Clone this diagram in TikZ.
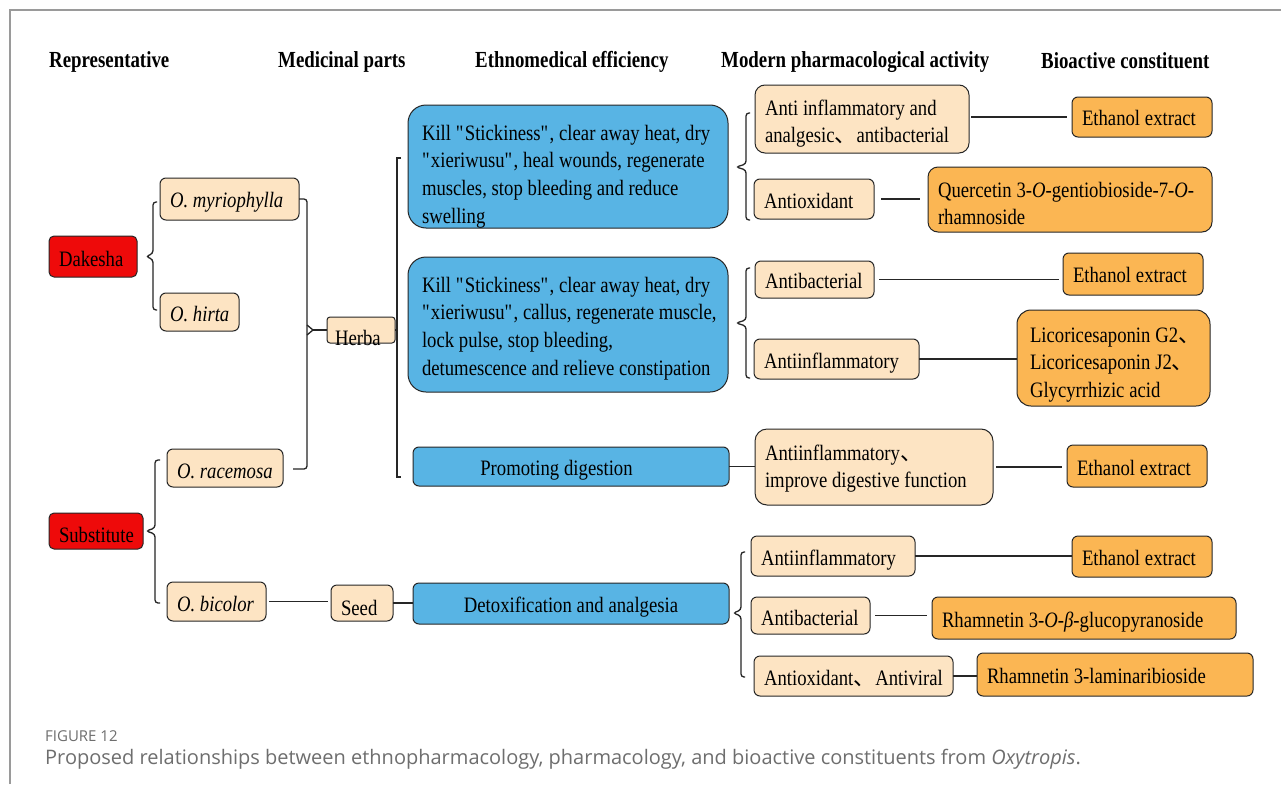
\documentclass[tikz,border=0pt]{standalone}
\usepackage{fontspec}
\setmainfont{Liberation Serif}[FakeStretch=0.85]
\newfontfamily\hdfont{Liberation Serif}[FakeStretch=0.82]
\newfontfamily\cjk{Noto Sans CJK SC}
\newfontfamily\capfont{Open Sans}
\usetikzlibrary{calc}
\definecolor{redbox}{HTML}{EE0A0A}
\definecolor{peach}{HTML}{FDE4C3}
\definecolor{orangebox}{HTML}{FBB653}
\definecolor{bluebox}{HTML}{58B4E4}
\definecolor{framegray}{HTML}{9A9A9A}
\definecolor{capgray}{HTML}{6E6E6E}
\newcommand\nbx[1]{\mbox{#1}}
\newcommand\dun{{\cjk 、}}
\newcommand\dq{\XeTeXglyph\the\XeTeXcharglyph"22\relax}
\begin{document}
\begin{tikzpicture}[x=1pt,y=-1pt,
  bx/.style={draw=black!85, line width=1pt, anchor=north west, inner xsep=10pt, inner ysep=0pt,
    align=left, outer sep=0pt, font=\fontsize{22}{27.7}\selectfont,
    execute at begin node={\spaceskip=4.8pt\relax}},
  redb/.style={bx, fill=redbox, rounded corners=5pt},
  peachb/.style={bx, fill=peach, rounded corners=6pt},
  orangeb/.style={bx, fill=orangebox, rounded corners=6pt},
  blueb/.style={bx, fill=bluebox, rounded corners=6pt},
  hd/.style={anchor=base west, inner sep=0pt, font=\hdfont\bfseries\fontsize{23}{27}\selectfont},
  conn/.style={draw=black!85, line width=1.3pt},
]
\useasboundingbox (0,0) rectangle (1281,784);
\fill[white] (0,0) rectangle (1281,784);
\draw[framegray, line width=1.5pt] (10,784) -- (10,10) -- (1281,10);

% headers
\node[hd] (h1) at (49,67) {Representative};
\node[hd] (h2) at (278,67) {Medicinal parts};
\node[hd] (h3) at (475,67) {Ethnomedical efficiency};
\node[hd] (h4) at (721,67) {Modern pharmacological activity};
\node[hd] (h5) at (1041,68) {Bioactive constituent};

% left column
\node[redb, text width=68pt, text height=30pt, text depth=11pt] (dak) at (49,236) {\nbx{Dakesha}};
\node[redb, text width=74pt, text height=29pt, text depth=7pt] (sub) at (49,513) {\nbx{Substitute}};

\node[peachb, text width=119pt, text height=29pt, text depth=13pt] (myr) at (160,178) {\nbx{\itshape O. myriophylla}};
\node[peachb, text width=59pt, text height=28pt, text depth=10pt] (hir) at (160,293) {\nbx{\itshape O. hirta}};
\node[peachb, text width=96pt, text height=29pt, text depth=9pt] (rac) at (167,449) {\nbx{\itshape O. racemosa}};
\node[peachb, text width=79pt, text height=29pt, text depth=10pt] (bic) at (167,582) {\nbx{\itshape O. bicolor}};

\node[peachb, rounded corners=3pt, inner xsep=8pt, text width=52pt, text height=26pt, text depth=0pt] (herba) at (327,317) {\nbx{\raisebox{-2pt}{Herba}}};
\node[peachb, text width=42pt, text height=30pt, text depth=6pt] (seed) at (331,585) {\nbx{Seed}};

% ethnomedical
\node[blueb, rounded corners=18pt, inner xsep=14pt, text width=292pt, text height=35pt, text depth=88pt] (b1) at (408,105)
 {\nbx{Kill \dq Stickiness\dq, clear away heat, dry}\\\nbx{\dq xieriwusu\dq, heal wounds, regenerate}\\\nbx{muscles, stop bleeding and reduce}\\\nbx{swelling}};
\node[blueb, rounded corners=18pt, inner xsep=14pt, text width=292pt, text height=35pt, text depth=100pt] (b2) at (408,257)
 {\nbx{Kill \dq Stickiness\dq, clear away heat, dry}\\\nbx{\dq xieriwusu\dq, callus, regenerate muscle,}\\\nbx{lock pulse, stop bleeding,}\\\nbx{detumescence and relieve constipation}};
\node[blueb, align=center, text width=296pt, text height=28pt, text depth=11pt] (prom) at (413,447) {\nbx{Promoting digestion\hspace*{29pt}}};
\node[blueb, align=center, text width=296pt, text height=29pt, text depth=12pt] (detox) at (413,583) {\nbx{Detoxification and analgesia}};

% pharmacological activity
\node[peachb, rounded corners=10pt, text width=194pt, text height=30pt, text depth=38pt] (a1) at (755,85)
 {\nbx{Anti inflammatory and}\\\nbx{analgesic\dun antibacterial}};
\node[peachb, text width=100pt, text height=29pt, text depth=11pt] (a2) at (754,179) {\nbx{Antioxidant}};
\node[peachb, text width=99pt, text height=27pt, text depth=10pt] (a3) at (755,261) {\nbx{Antibacterial}};
\node[peachb, text width=145pt, text height=29pt, text depth=11pt] (a4) at (754,339) {\nbx{Antiinflammatory}};
\node[peachb, rounded corners=12pt, text width=218pt, text height=31pt, text depth=45pt] (a5) at (755,429)
 {\nbx{Antiinflammatory\dun}\\\nbx{improve digestive function}};
\node[peachb, text width=144pt, text height=29pt, text depth=11pt] (a6) at (751,536) {\nbx{Antiinflammatory}};
\node[peachb, text width=99pt, text height=28pt, text depth=9pt] (a7) at (751,597) {\nbx{Antibacterial}};
\node[peachb, text width=179pt, text height=29pt, text depth=11pt] (a8) at (754,656) {\nbx{Antioxidant\dun Antiviral}};

% bioactive constituents
\node[orangeb, text width=120pt, text height=28pt, text depth=12pt] (e1) at (1072,97) {\nbx{Ethanol extract}};
\node[orangeb, rounded corners=10pt, text width=264pt, text height=30pt, text depth=35pt] (q) at (928,167)
 {\nbx{Quercetin 3-\textit{O}-gentiobioside-7-\textit{O}-}\\\nbx{rhamnoside}};
\node[orangeb, text width=120pt, text height=29pt, text depth=13pt] (e2) at (1063,253) {\nbx{Ethanol extract}};
\node[orangeb, rounded corners=14pt, inner xsep=13pt, text width=167pt, text height=32pt, text depth=64pt] (lic) at (1017,310)
 {\nbx{Licoricesaponin G2\dun}\\\nbx{Licoricesaponin J2\dun}\\\nbx{Glycyrrhizic acid}};
\node[orangeb, text width=120pt, text height=30pt, text depth=12pt] (e3) at (1067,445) {\nbx{Ethanol extract}};
\node[orangeb, text width=120pt, text height=29pt, text depth=12pt] (e4) at (1072,536) {\nbx{Ethanol extract}};
\node[orangeb, text width=284pt, text height=30pt, text depth=12pt] (r1) at (932,597) {\nbx{Rhamnetin 3-\textit{O}-\textit{β}-glucopyranoside}};
\node[orangeb, text width=256pt, text height=30pt, text depth=13pt] (r2) at (977,653) {\nbx{Rhamnetin 3-laminaribioside}};

% braces on the left
\coordinate (dT) at ($(dak.east)+(9,0)$);
\draw[conn, rounded corners=3pt] ($(myr.west)+(-3,3)$) -- ++(-4,0) -- ($(dT)+(7,-3)$) -- (dT) -- ($(dT)+(7,3)$) -- ($(hir.west)+(-7,-2)$) -- ++(4,0);
\coordinate (sT) at ($(sub.east)+(3,0)$);
\draw[conn, rounded corners=3pt] ($(rac.west)+(-7,-8)$) -- ++(-5,0) -- ($(sT)+(9,-3)$) -- (sT) -- ($(sT)+(9,3)$) -- ($(bic.west)+(-12,1.5)$) -- ++(5,0);

% species to Herba
\draw[conn, rounded corners=3pt] (myr.east) -- ++(8,0) -- ($(rac.east)+(24,1)$) -- ($(rac.east)+(10,1)$);
\draw[conn] ($(herba.west)+(-20,-5)$) -- ($(herba.west)+(-14,0)$) -- ($(herba.west)+(-20,5)$);
\draw[conn] ($(herba.west)+(-14,0)$) -- (herba.west);

% Herba to ethnomedical boxes
\draw[conn] (herba.east) -- ++(2,0);
\draw[conn] ($(b1.west)+(-7,-8.5)$) -- ++(-4,0) -- ($(prom.west)+(-16,10.5)$) -- ++(4,0);

% O. bicolor - Seed - Detox
\draw[conn, shorten <=3pt, shorten >=3pt] (bic.east) -- (bic.east -| seed.west);
\draw[conn] (seed.east) -- (seed.east -| detox.west);

% braces on the right
\coordinate (bT) at ($(b1.east)+(8,0.5)$);
\draw[conn, rounded corners=3pt] ($(a1.west)+(-5,-6)$) -- ++(-4,0) -- ($(bT)+(10,-3)$) -- (bT) -- ($(bT)+(10,3)$) -- ($(a2.west)+(-8,21)$) -- ++(4,0);
\coordinate (cT) at ($(b2.east)+(8,-1.5)$);
\draw[conn, rounded corners=3pt] ($(a3.west)+(-5,-11.5)$) -- ++(-4,0) -- ($(cT)+(10,-3)$) -- (cT) -- ($(cT)+(10,3)$) -- ($(a4.west)+(-8,19)$) -- ++(4,0);
\coordinate (xT) at ($(detox.east)+(4,9.5)$);
\draw[conn, rounded corners=3pt] ($(a6.west)+(-6,-4)$) -- ++(-4,0) -- ($(xT)+(8,-3)$) -- (xT) -- ($(xT)+(8,3)$) -- ($(a8.west)+(-13,1)$) -- ++(4,0);
\draw[conn] (prom.east) -- (prom.east -| a5.west);

% activity to constituent
\draw[conn, shorten <=2pt, shorten >=5pt] (a1.east |- e1.west) -- (e1.west);
\draw[conn, shorten <=7pt, shorten >=8pt] (a2.east) -- (a2.east -| q.west);
\draw[conn, shorten <=5pt, shorten >=4pt] (a3.east) -- (a3.east -| e2.west);
\draw[conn] (a4.east) -- (a4.east -| lic.west);
\draw[conn, shorten <=3pt, shorten >=5pt] (a5.east) -- (a5.east -| e3.west);
\draw[conn] (a6.east) -- (a6.east -| e4.west);
\draw[conn, shorten <=5pt, shorten >=5pt] (a7.east) -- (a7.east -| r1.west);
\draw[conn] (a8.east) -- (a8.east -| r2.west);

% caption
\node[anchor=base west, inner sep=0pt, text=capgray, font=\capfont\fontsize{15}{18}\selectfont] (fig) at (45,741) {FIGURE 12};
\node[anchor=base west, inner sep=0pt, text=capgray, font=\capfont\fontsize{20}{24}\selectfont] (cap) at (45,764)
 {Proposed relationships between ethnopharmacology, pharmacology, and bioactive constituents from \textit{Oxytropis}.};
\end{tikzpicture}
\end{document}
